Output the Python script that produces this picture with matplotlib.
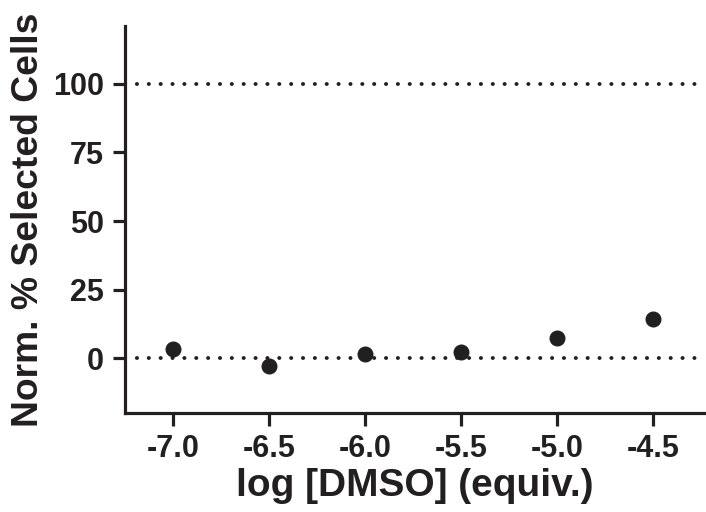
import matplotlib
matplotlib.use('Agg')
import matplotlib.pyplot as plt

plt.rcParams['font.family'] = ['Liberation Sans', 'DejaVu Sans']
plt.rcParams['font.weight'] = 'bold'

log_dmso = [-7.0, -6.5, -6.0, -5.5, -5.0, -4.5]
norm_pct = [3.3, -2.9, 1.5, 2.2, 7.3, 14.2]
x_ticks = [-7.0, -6.5, -6.0, -5.5, -5.0, -4.5]
y_ticks = [0, 25, 50, 75, 100]
ref_lines = [0, 100]

ink = '#231f20'

fig = plt.figure(figsize=(7.06, 5.12), dpi=100)
ax = fig.add_axes([0.177, 0.193, 0.822, 0.756])

for yv in ref_lines:
    ax.axhline(yv, color=ink, lw=2.8, linestyle=(0, (0.05, 3.0)),
               dash_capstyle='round', zorder=1)

ax.plot(log_dmso, norm_pct, 'o', color=ink, ms=10.5, zorder=3)

ax.set_xlim(-7.25, -4.23)
ax.set_ylim(-20, 121)
ax.set_xticks(x_ticks)
ax.set_xticklabels([f'{v:.1f}' for v in x_ticks])
ax.set_yticks(y_ticks)

for s in ['top', 'right']:
    ax.spines[s].set_visible(False)
for s in ['left', 'bottom']:
    ax.spines[s].set_linewidth(2.3)
    ax.spines[s].set_color(ink)

ax.tick_params(axis='both', length=9, width=2.3, color=ink, labelsize=22,
               labelcolor=ink, pad=6)

ax.set_xlabel('log [DMSO] (equiv.)', fontsize=28, fontweight='bold',
              color=ink, labelpad=3)
ax.set_ylabel('Norm. % Selected Cells', fontsize=26.8, fontweight='bold',
              color=ink, labelpad=5)

fig.savefig('out.png', dpi=100)
